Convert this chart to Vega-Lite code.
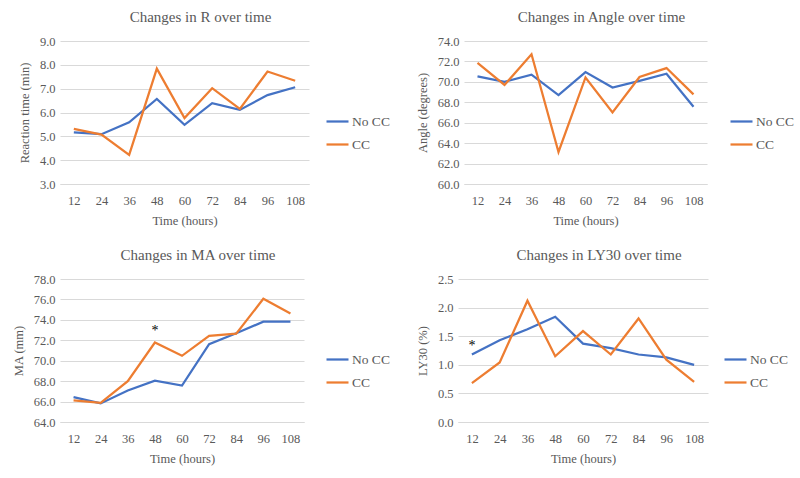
{
  "$schema": "https://vega.github.io/schema/vega-lite/v6.json",
  "background": "white",
  "padding": {"left": 12, "top": 10, "right": 5, "bottom": 5},
  "config": {
    "font": "Liberation Serif",
    "view": {"stroke": null},
    "title": {"font": "Liberation Serif", "fontSize": 15, "fontWeight": "normal", "color": "#595959", "offset": 10, "dx": 16},
    "axis": {"labelFont": "Liberation Serif", "labelFontSize": 12.5, "labelColor": "#595959", "titleFont": "Liberation Serif", "titleFontSize": 12.5, "titleFontWeight": "normal", "titleColor": "#595959", "ticks": false, "gridColor": "#d9d9d9", "domainColor": "#d9d9d9", "labelOverlap": false},
    "axisX": {"grid": false, "labelAngle": 0, "labelPadding": 10, "titlePadding": 8},
    "axisY": {"domain": false, "labelPadding": 5, "titlePadding": 8},
    "legend": {"labelFont": "Liberation Serif", "labelFontSize": 13.5, "labelColor": "#595959", "symbolType": "stroke", "symbolStrokeWidth": 2.5, "symbolSize": 484, "rowPadding": 4, "padding": 0, "orient": "none", "legendX": 265, "legendY": 68, "labelOffset": 2},
    "line": {"strokeWidth": 2.25},
    "text": {"font": "Liberation Serif"}
  },
  "datasets": {
    "r": [
      {"time": 12, "series": "No CC", "value": 5.17}, {"time": 24, "series": "No CC", "value": 5.09}, {"time": 36, "series": "No CC", "value": 5.59},
      {"time": 48, "series": "No CC", "value": 6.57}, {"time": 60, "series": "No CC", "value": 5.48}, {"time": 72, "series": "No CC", "value": 6.39},
      {"time": 84, "series": "No CC", "value": 6.11}, {"time": 96, "series": "No CC", "value": 6.73}, {"time": 108, "series": "No CC", "value": 7.06},
      {"time": 12, "series": "CC", "value": 5.31}, {"time": 24, "series": "CC", "value": 5.07}, {"time": 36, "series": "CC", "value": 4.22},
      {"time": 48, "series": "CC", "value": 7.84}, {"time": 60, "series": "CC", "value": 5.77}, {"time": 72, "series": "CC", "value": 7.02},
      {"time": 84, "series": "CC", "value": 6.15}, {"time": 96, "series": "CC", "value": 7.72}, {"time": 108, "series": "CC", "value": 7.33}
    ],
    "angle": [
      {"time": 12, "series": "No CC", "value": 70.53}, {"time": 24, "series": "No CC", "value": 70.0}, {"time": 36, "series": "No CC", "value": 70.7},
      {"time": 48, "series": "No CC", "value": 68.7}, {"time": 60, "series": "No CC", "value": 70.96}, {"time": 72, "series": "No CC", "value": 69.45},
      {"time": 84, "series": "No CC", "value": 70.1}, {"time": 96, "series": "No CC", "value": 70.8}, {"time": 108, "series": "No CC", "value": 67.56},
      {"time": 12, "series": "CC", "value": 71.87}, {"time": 24, "series": "CC", "value": 69.7}, {"time": 36, "series": "CC", "value": 72.7},
      {"time": 48, "series": "CC", "value": 63.14}, {"time": 60, "series": "CC", "value": 70.43}, {"time": 72, "series": "CC", "value": 67.0},
      {"time": 84, "series": "CC", "value": 70.47}, {"time": 96, "series": "CC", "value": 71.35}, {"time": 108, "series": "CC", "value": 68.77}
    ],
    "ma": [
      {"time": 12, "series": "No CC", "value": 66.43}, {"time": 24, "series": "No CC", "value": 65.82}, {"time": 36, "series": "No CC", "value": 67.08},
      {"time": 48, "series": "No CC", "value": 68.05}, {"time": 60, "series": "No CC", "value": 67.57}, {"time": 72, "series": "No CC", "value": 71.62},
      {"time": 84, "series": "No CC", "value": 72.69}, {"time": 96, "series": "No CC", "value": 73.82}, {"time": 108, "series": "No CC", "value": 73.82},
      {"time": 12, "series": "CC", "value": 66.11}, {"time": 24, "series": "CC", "value": 65.88}, {"time": 36, "series": "CC", "value": 67.99},
      {"time": 48, "series": "CC", "value": 71.78}, {"time": 60, "series": "CC", "value": 70.48}, {"time": 72, "series": "CC", "value": 72.43},
      {"time": 84, "series": "CC", "value": 72.65}, {"time": 96, "series": "CC", "value": 76.06}, {"time": 108, "series": "CC", "value": 74.63}
    ],
    "ly30": [
      {"time": 12, "series": "No CC", "value": 1.18}, {"time": 24, "series": "No CC", "value": 1.43}, {"time": 36, "series": "No CC", "value": 1.62},
      {"time": 48, "series": "No CC", "value": 1.84}, {"time": 60, "series": "No CC", "value": 1.37}, {"time": 72, "series": "No CC", "value": 1.29},
      {"time": 84, "series": "No CC", "value": 1.18}, {"time": 96, "series": "No CC", "value": 1.13}, {"time": 108, "series": "No CC", "value": 1.0},
      {"time": 12, "series": "CC", "value": 0.68}, {"time": 24, "series": "CC", "value": 1.04}, {"time": 36, "series": "CC", "value": 2.12},
      {"time": 48, "series": "CC", "value": 1.15}, {"time": 60, "series": "CC", "value": 1.59}, {"time": 72, "series": "CC", "value": 1.18},
      {"time": 84, "series": "CC", "value": 1.81}, {"time": 96, "series": "CC", "value": 1.09}, {"time": 108, "series": "CC", "value": 0.7}
    ],
    "ma_star": [{"time": 48, "value": 72.9, "label": "*"}],
    "ly30_star": [{"time": 12, "value": 1.33, "label": "*"}]
  },
  "columns": 2,
  "align": "none",
  "spacing": {"row": 21, "column": 26},
  "resolve": {"scale": {"color": "independent"}, "legend": {"color": "independent"}},
  "concat": [
    {
      "title": "Changes in R over time",
      "width": 249, "height": 143,
      "layer": [
        {
          "data": {"name": "r"},
          "mark": {"type": "line"},
          "encoding": {
            "x": {"field": "time", "type": "ordinal", "scale": {"type": "point", "padding": 0.5}, "title": "Time (hours)"},
            "y": {"field": "value", "type": "quantitative", "scale": {"domain": [3, 9], "nice": false, "zero": false}, "axis": {"values": [3, 4, 5, 6, 7, 8, 9], "format": ".1f"}, "title": "Reaction time (min)"},
            "color": {"field": "series", "type": "nominal", "scale": {"domain": ["No CC", "CC"], "range": ["#4472C4", "#ED7D31"]}, "legend": {"title": null}}
          }
        }
      ]
    },
    {
      "title": "Changes in Angle over time",
      "width": 243, "height": 143,
      "layer": [
        {
          "data": {"name": "angle"},
          "mark": {"type": "line"},
          "encoding": {
            "x": {"field": "time", "type": "ordinal", "scale": {"type": "point", "padding": 0.5}, "title": "Time (hours)"},
            "y": {"field": "value", "type": "quantitative", "scale": {"domain": [60, 74], "nice": false, "zero": false}, "axis": {"values": [60, 62, 64, 66, 68, 70, 72, 74], "format": ".1f"}, "title": "Angle (degrees)"},
            "color": {"field": "series", "type": "nominal", "scale": {"domain": ["No CC", "CC"], "range": ["#4472C4", "#ED7D31"]}, "legend": {"title": null}}
          }
        }
      ]
    },
    {
      "title": "Changes in MA over time",
      "width": 244, "height": 143,
      "layer": [
        {
          "data": {"name": "ma"},
          "mark": {"type": "line"},
          "encoding": {
            "x": {"field": "time", "type": "ordinal", "scale": {"type": "point", "padding": 0.5}, "title": "Time (hours)"},
            "y": {"field": "value", "type": "quantitative", "scale": {"domain": [64, 78], "nice": false, "zero": false}, "axis": {"values": [64, 66, 68, 70, 72, 74, 76, 78], "format": ".1f"}, "title": "MA (mm)"},
            "color": {"field": "series", "type": "nominal", "scale": {"domain": ["No CC", "CC"], "range": ["#4472C4", "#ED7D31"]}, "legend": {"title": null}}
          }
        },
        {
          "data": {"name": "ma_star"},
          "mark": {"type": "text", "fontSize": 14, "color": "black", "baseline": "middle"},
          "encoding": {
            "x": {"field": "time", "type": "ordinal", "title": "Time (hours)"},
            "y": {"field": "value", "type": "quantitative", "scale": {"domain": [64, 78], "nice": false, "zero": false}, "axis": {"values": [64, 66, 68, 70, 72, 74, 76, 78], "format": ".1f"}, "title": "MA (mm)"},
            "text": {"field": "label"}
          }
        }
      ]
    },
    {
      "title": "Changes in LY30 over time",
      "width": 250, "height": 143,
      "layer": [
        {
          "data": {"name": "ly30"},
          "mark": {"type": "line"},
          "encoding": {
            "x": {"field": "time", "type": "ordinal", "scale": {"type": "point", "padding": 0.5}, "title": "Time (hours)"},
            "y": {"field": "value", "type": "quantitative", "scale": {"domain": [0, 2.5], "nice": false}, "axis": {"values": [0, 0.5, 1, 1.5, 2, 2.5], "format": ".1f"}, "title": "LY30 (%)"},
            "color": {"field": "series", "type": "nominal", "scale": {"domain": ["No CC", "CC"], "range": ["#4472C4", "#ED7D31"]}, "legend": {"title": null}}
          }
        },
        {
          "data": {"name": "ly30_star"},
          "mark": {"type": "text", "fontSize": 14, "color": "black", "baseline": "middle"},
          "encoding": {
            "x": {"field": "time", "type": "ordinal", "title": "Time (hours)"},
            "y": {"field": "value", "type": "quantitative", "scale": {"domain": [0, 2.5], "nice": false}, "axis": {"values": [0, 0.5, 1, 1.5, 2, 2.5], "format": ".1f"}, "title": "LY30 (%)"},
            "text": {"field": "label"}
          }
        }
      ]
    }
  ]
}
